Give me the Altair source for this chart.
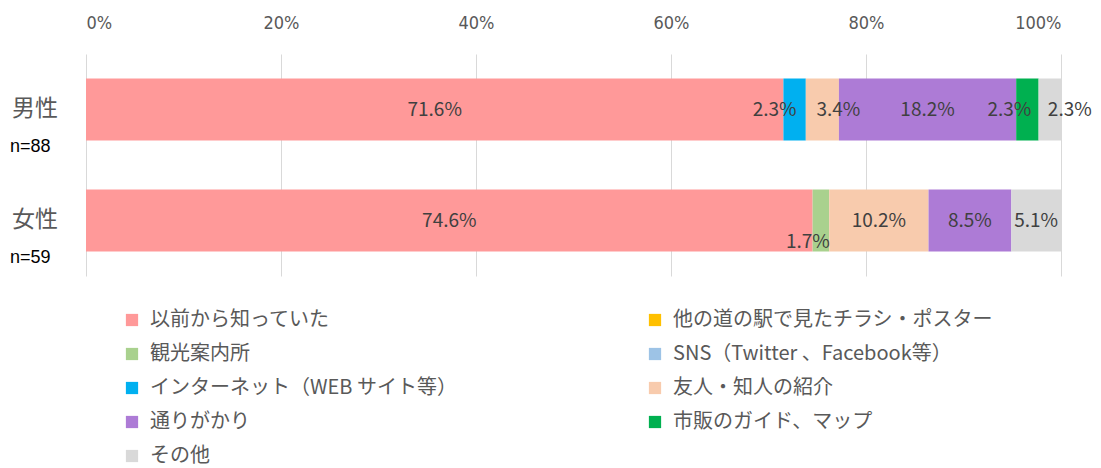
import altair as alt
import pandas as pd

categories = ["以前から知っていた", "他の道の駅で見たチラシ・ポスター", "観光案内所",
              "SNS（Twitter 、Facebook等）", "インターネット（WEB サイト等）",
              "友人・知人の紹介", "通りがかり", "市販のガイド、マップ", "その他"]
colors = ["#FF9999", "#FFC000", "#A9D18E", "#9DC3E6", "#00B0F0",
          "#F8CBAD", "#AD7BD6", "#00B050", "#D9D9D9"]
groups = ["男性", "女性"]
group_n = ["n=88", "n=59"]
male = [71.6, 0, 0, 0, 2.3, 3.4, 18.2, 2.3, 2.3]
female = [74.6, 0, 1.7, 0, 0, 10.2, 8.5, 0, 5.1]

rows = []
for g, vals in zip(groups, [male, female]):
    for i, (c, v) in enumerate(zip(categories, vals)):
        rows.append({"group": g, "category": c, "order": i, "value": v})
df = pd.DataFrame(rows)
gdf = pd.DataFrame({"group": groups, "n": group_n})

# label nudges (Excel-style overlap avoidance)
offsets = {
    ("男性", "インターネット（WEB サイト等）"): (-20, 0),
    ("男性", "友人・知人の紹介"): (16, 0),
    ("男性", "市販のガイド、マップ"): (-18, 0),
    ("男性", "その他"): (20, 0),
    ("女性", "観光案内所"): (-13, 21),
}

FONT = "Noto Sans CJK JP"
NUMFONT = "DejaVu Sans Condensed, Liberation Sans, sans-serif"

yscale = alt.Scale(domain=groups, paddingInner=0.44, paddingOuter=0.22)
xscale = alt.Scale(domain=[0, 1], nice=False)

base = alt.Chart(df).transform_joinaggregate(
    total="sum(value)", groupby=["group"]
).transform_calculate(
    pct="datum.value / datum.total"
).transform_stack(
    stack="pct", groupby=["group"], as_=["x0", "x1"], sort=[alt.SortField("order")]
).transform_calculate(
    mid="(datum.x0 + datum.x1) / 2",
    label="format(datum.value, '.1f') + '%'"
)

bars = base.transform_filter("datum.value > 0").mark_bar(strokeWidth=0).encode(
    x=alt.X("x0:Q", scale=xscale,
            axis=alt.Axis(orient="top", format="%", values=[0, 0.2, 0.4, 0.6, 0.8, 1.0],
                          grid=True, gridColor="#D9D9D9", gridWidth=1, domain=False,
                          ticks=False, labelFontSize=18, labelColor="#595959",
                          labelFont=NUMFONT, labelPadding=22, title=None)),
    x2="x1:Q",
    y=alt.Y("group:N", scale=yscale, axis=None),
    color=alt.Color("category:N", scale=alt.Scale(domain=categories, range=colors),
                    legend=alt.Legend(orient="none", legendX=36, legendY=256, columns=2,
                                      direction="horizontal",
                                      columnPadding=188, rowPadding=14, title=None,
                                      labelFontSize=20, labelFont=FONT, labelColor="#595959",
                                      labelLimit=0, symbolType="square", symbolSize=150,
                                      symbolStrokeWidth=0, labelOffset=8)),
    order=alt.Order("order:Q"),
)

cond_none = " && ".join(
    f"!(datum.group == '{g}' && datum.category == '{c}')" for (g, c) in offsets
)
text_layers = [
    base.transform_filter("datum.value > 0").transform_filter(cond_none).mark_text(
        fontSize=19, color="#404040", font=FONT, baseline="middle", align="center"
    ).encode(x=alt.X("mid:Q", scale=xscale), y=alt.Y("group:N", scale=yscale), text="label:N")
]
for (g, c), (dx, dy) in offsets.items():
    text_layers.append(
        base.transform_filter(f"datum.group == '{g}' && datum.category == '{c}'").mark_text(
            fontSize=19, color="#404040", font=FONT, baseline="middle", align="center",
            dx=dx, dy=dy
        ).encode(x=alt.X("mid:Q", scale=xscale), y=alt.Y("group:N", scale=yscale), text="label:N")
    )

gname = alt.Chart(gdf).mark_text(fontSize=23, color="#595959", font=FONT, align="left",
                                 baseline="middle", dy=-1).encode(
    x=alt.value(-74), y=alt.Y("group:N", scale=yscale), text="group:N")
gn = alt.Chart(gdf).mark_text(fontSize=18, color="#000000", font="Liberation Sans", align="left",
                              baseline="middle", dy=37).encode(
    x=alt.value(-76), y=alt.Y("group:N", scale=yscale), text="n:N")

chart = alt.layer(bars, *text_layers, gname, gn).properties(
    width=975, height=222,
    autosize=alt.AutoSizeParams(type="none"),
    padding={"left": 86, "top": 54, "right": 40, "bottom": 192},
).configure_view(stroke=None)

chart.save("out.html", embed_options={"renderer": "svg", "actions": False})
